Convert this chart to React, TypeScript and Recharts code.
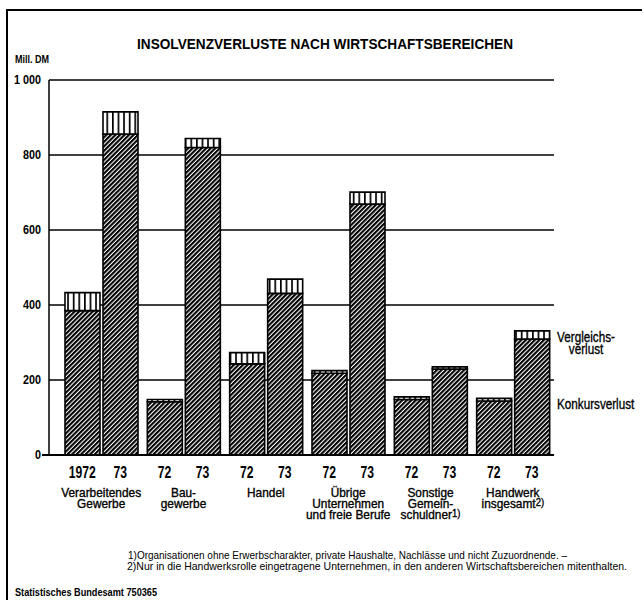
import { BarChart, Bar, XAxis, YAxis, CartesianGrid } from 'recharts';

const FONT = "'Liberation Sans', Arial, sans-serif";

const categories = [
  'Verarbeitendes Gewerbe',
  'Baugewerbe',
  'Handel',
  'Übrige Unternehmen und freie Berufe',
  'Sonstige Gemeinschuldner',
  'Handwerk insgesamt',
];
const categoryLines = [
  ['Verarbeitendes', 'Gewerbe'],
  ['Bau-', 'gewerbe'],
  ['Handel'],
  ['Übrige', 'Unternehmen', 'und freie Berufe'],
  ['Sonstige', 'Gemein-', 'schuldner'],
  ['Handwerk', 'insgesamt'],
];
const categoryNotes = ['', '', '', '', '1)', '2)'];
const yearFirst = ['1972', '72', '72', '72', '72', '72'];
const yearSecond = ['73', '73', '73', '73', '73', '73'];

// Mill. DM
const konkurs72 = [385, 142, 243, 218, 148, 144];
const vergleich72 = [48, 6, 30, 7, 7, 7];
const konkurs73 = [856, 820, 431, 669, 229, 309];
const vergleich73 = [59, 24, 38, 32, 6, 22];

const yTicks = [0, 200, 400, 600, 800, 1000];

const data = categories.map((cat, i) => ({
  cat,
  k72: konkurs72[i],
  v72: vergleich72[i],
  k73: konkurs73[i],
  v73: vergleich73[i],
}));

// condensed text: the original uses a narrow grotesque
const NText = ({ x, y, sx = 1, children, ...rest }: any) => (
  <text
    transform={`translate(${x} ${y}) scale(${sx} 1)`}
    dominantBaseline="central"
    fontFamily={FONT}
    fill="#000"
    {...rest}
  >
    {children}
  </text>
);

const YTick = ({ x, y, payload }: any) => (
  <g>
    {payload.value === 0 && <line x1={x - 7} x2={x} y1={y} y2={y} stroke="#000" strokeWidth={2} />}
    <NText x={x - 8} y={y} sx={0.83} textAnchor="end" fontWeight="bold" fontSize={13}>
      {payload.value === 1000 ? '1 000' : payload.value}
    </NText>
  </g>
);

const XTick = ({ x, y, index }: any) => {
  const lines = categoryLines[index];
  return (
    <g>
      <NText x={x - 19} y={y + 17} sx={0.76} textAnchor="middle" fontWeight="bold" fontSize={16}>
        {yearFirst[index]}
      </NText>
      <NText x={x + 19} y={y + 17} sx={0.76} textAnchor="middle" fontWeight="bold" fontSize={16}>
        {yearSecond[index]}
      </NText>
      {lines.map((line, j) => (
        <NText
          key={j}
          x={x}
          y={y + 38 + j * 11}
          sx={0.95}
          textAnchor="middle"
          fontSize={12.5}
          stroke="#000"
          strokeWidth={0.35}
        >
          {line}
          {j === lines.length - 1 && categoryNotes[index] && (
            <tspan fontSize={10} dy={-2}>{categoryNotes[index]}</tspan>
          )}
        </NText>
      ))}
    </g>
  );
};

export default function App() {
  return (
    <div style={{ position: 'absolute', left: 0, top: 0, width: 644, height: 600, background: '#fff' }}>
      <svg width={0} height={0} style={{ position: 'absolute' }}>
        <defs>
          <pattern id="hatch" patternUnits="userSpaceOnUse" width={3.2} height={3.2} patternTransform="rotate(45)">
            <rect width={3.2} height={3.2} fill="#fff" />
            <rect width={2.1} height={3.2} fill="#000" />
          </pattern>
          <pattern id="vstripe" patternUnits="userSpaceOnUse" width={5.6} height={10}>
            <rect width={5.6} height={10} fill="#fff" />
            <rect width={1.7} height={10} fill="#000" />
          </pattern>
        </defs>
      </svg>
      <BarChart
        width={644}
        height={600}
        data={data}
        margin={{ top: 80, right: 90, bottom: 5, left: 0 }}
        barSize={35}
        barGap={3}
      >
        <CartesianGrid horizontal vertical={false} stroke="#000" strokeWidth={1.4} />
        <YAxis
          width={49}
          domain={[0, 1000]}
          ticks={yTicks}
          interval={0}
          tickSize={0}
          tickMargin={0}
          tick={<YTick />}
          axisLine={{ stroke: '#000', strokeWidth: 1.5 }}
          tickLine={false}
        />
        <XAxis
          dataKey="cat"
          height={140}
          padding={{ left: 11, right: 0 }}
          interval={0}
          tickSize={0}
          tickMargin={0}
          tick={<XTick />}
          axisLine={{ stroke: '#000', strokeWidth: 2.2 }}
          tickLine={false}
        />
        <Bar dataKey="k72" stackId="72" fill="url(#hatch)" stroke="#000" strokeWidth={1.6} isAnimationActive={false} />
        <Bar dataKey="v72" stackId="72" fill="url(#vstripe)" stroke="#000" strokeWidth={1.6} isAnimationActive={false} />
        <Bar dataKey="k73" stackId="73" fill="url(#hatch)" stroke="#000" strokeWidth={1.6} isAnimationActive={false} />
        <Bar dataKey="v73" stackId="73" fill="url(#vstripe)" stroke="#000" strokeWidth={1.6} isAnimationActive={false} />
      </BarChart>
      <svg
        width={644}
        height={600}
        style={{ position: 'absolute', left: 0, top: 0, pointerEvents: 'none' }}
        fontFamily={FONT}
      >
        <line x1={7} x2={7} y1={9} y2={600} stroke="#000" strokeWidth={2} />
        <line x1={6} x2={642} y1={10} y2={10} stroke="#000" strokeWidth={2} />
        <text x={325} y={43} textAnchor="middle" dominantBaseline="central" fontWeight="bold" fontSize={15} textLength={376} lengthAdjust="spacingAndGlyphs">
          INSOLVENZVERLUSTE NACH WIRTSCHAFTSBEREICHEN
        </text>
        <text x={15} y={58.5} dominantBaseline="central" fontWeight="bold" fontSize={10.5} textLength={34} lengthAdjust="spacingAndGlyphs">
          Mill. DM
        </text>
        <NText x={586} y={337} sx={0.78} textAnchor="middle" fontSize={15} stroke="#000" strokeWidth={0.35}>Vergleichs-</NText>
        <NText x={586} y={349} sx={0.78} textAnchor="middle" fontSize={15} stroke="#000" strokeWidth={0.35}>verlust</NText>
        <NText x={557} y={404} sx={0.78} fontSize={15} stroke="#000" strokeWidth={0.35}>Konkursverlust</NText>
        <text x={128} y={555} dominantBaseline="central" fontSize={11} textLength={439} lengthAdjust="spacingAndGlyphs">
          1)Organisationen ohne Erwerbscharakter, private Haushalte, Nachlässe und nicht Zuzuordnende. –
        </text>
        <text x={127} y={566} dominantBaseline="central" fontSize={11} textLength={500} lengthAdjust="spacingAndGlyphs">
          2)Nur in die Handwerksrolle eingetragene Unternehmen, in den anderen Wirtschaftsbereichen mitenthalten.
        </text>
        <text x={15} y={592} dominantBaseline="central" fontWeight="bold" fontSize={10} textLength={142} lengthAdjust="spacingAndGlyphs">
          Statistisches Bundesamt 750365
        </text>
      </svg>
    </div>
  );
}
